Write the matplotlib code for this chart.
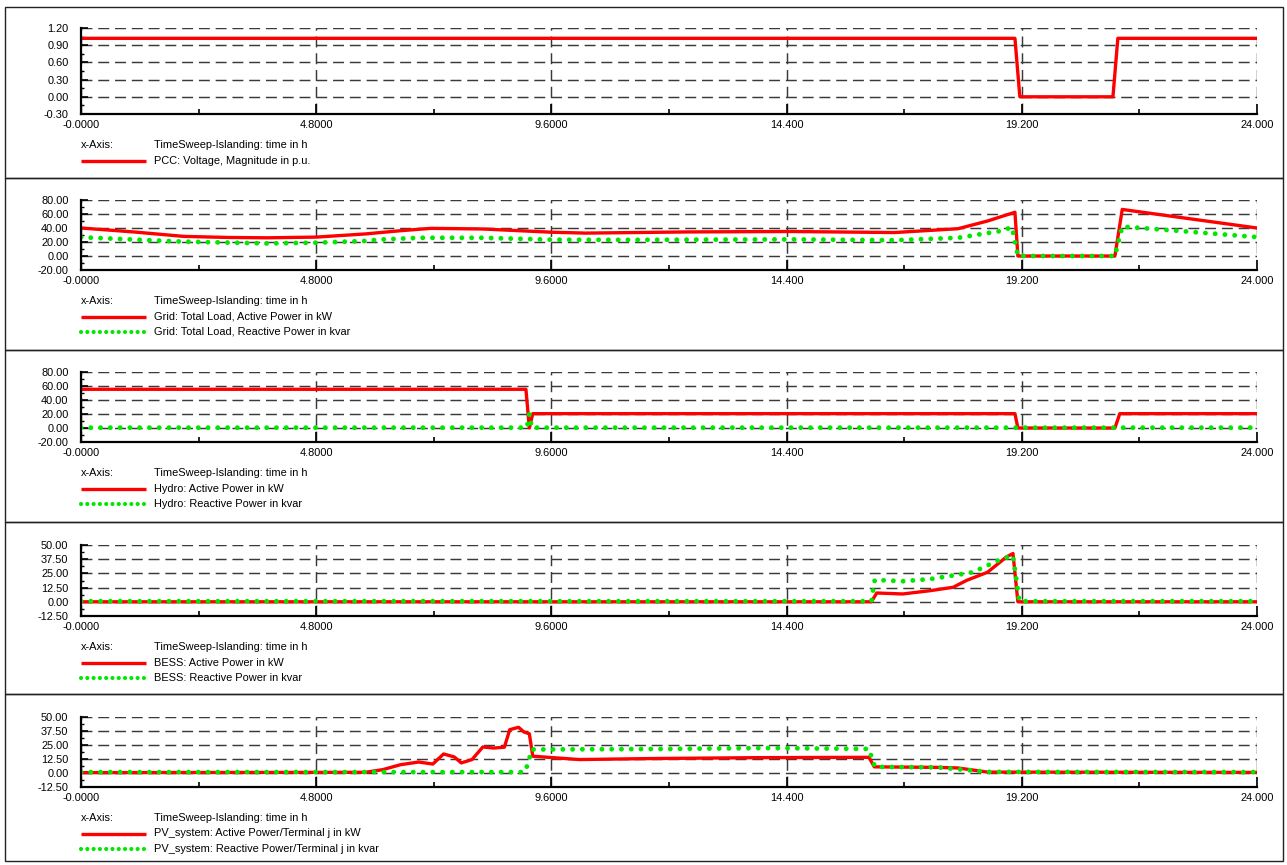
import matplotlib
matplotlib.use("Agg")
import matplotlib.pyplot as plt
from matplotlib.lines import Line2D
from matplotlib.patches import Rectangle
from matplotlib.ticker import AutoMinorLocator

plt.rcParams['font.family'] = ['Liberation Sans', 'DejaVu Sans']

W, H = 1287, 865

# x axis (hours)
x_ticks = [0, 4.8, 9.6, 14.4, 19.2, 24]
x_ticklabels = ['-0.0000', '4.8000', '9.6000', '14.400', '19.200', '24.000']
x_axis_label = 'TimeSweep-Islanding: time in h'

# PCC voltage
t_pcc = [0, 19.06, 19.16, 21.06, 21.16, 24]
pcc_v = [1.02, 1.02, 0.0, 0.0, 1.02, 1.02]

# grid total load
t_load_p = [0, 1.07, 2.1, 3.0, 3.8, 4.8, 5.8, 6.5, 7.14, 8.19, 9.6, 10.3, 12.4, 14.5,
            16.6, 17.9, 18.5, 19.06, 19.12, 21.1, 21.25, 24]
load_p = [40, 34.4, 28, 26.5, 26, 27, 31.5, 36, 39.5, 38.6, 34, 32.7, 34.4, 35,
          33.5, 39, 50, 62.5, 0, 0, 66.5, 40]
t_load_q = [0, 1.07, 2.1, 3.8, 4.8, 5.8, 6.1, 6.9, 8.2, 9.6, 11, 14.5, 16.6, 17.9,
            18.75, 19.0, 19.12, 21.1, 21.25, 22.2, 24]
load_q = [26.8, 23.5, 20.5, 18, 19, 21.5, 23.5, 26, 26, 23.3, 23, 23.8, 22.5, 26,
          35.5, 41, 0, 0, 42, 37, 27]

# hydro
t_hydro_p = [0, 9.08, 9.15, 9.22, 19.06, 19.12, 21.1, 21.2, 24]
hydro_p = [55.3, 55.3, 0, 20.5, 20.5, 0, 0, 20.5, 20.5]
t_hydro_q = [0, 9.1, 9.15, 9.2, 24]
hydro_q = [0.5, 0.5, 20, 0.5, 0.5]

# BESS
t_bess_p = [0, 16.13, 16.24, 16.77, 17.33, 17.8, 18.07, 18.5, 18.89, 19.02, 19.12, 24]
bess_p = [0, 0, 7.75, 6.9, 9.8, 12.8, 18.8, 26, 39.6, 42.5, 0, 0]
t_bess_q = [0, 16.13, 16.2, 16.77, 17.33, 17.8, 18.2, 18.5, 18.8, 19.02, 19.15, 24]
bess_q = [0.5, 0.5, 19.3, 18.1, 20, 23.2, 26, 32, 38, 40.5, 0.5, 0.5]

# PV system
t_pv_p = [0, 5.8, 6.16, 6.52, 6.89, 7.18, 7.40, 7.62, 7.76, 7.98, 8.2, 8.42, 8.64,
          8.75, 8.93, 9.04, 9.15, 9.22, 10.17, 11.63, 13.8, 16.08, 16.19, 17.5,
          17.9, 18.5, 24]
pv_p = [0.3, 0.6, 3, 7.4, 9.8, 8, 17, 14.3, 9, 12, 23.2, 22.3, 23, 38.7, 40.8, 36.6,
        35, 15, 12, 12.9, 13.7, 14, 5.5, 5, 4.5, 0.8, 0.5]
t_pv_q = [0, 9.05, 9.12, 9.2, 12, 14, 16.08, 16.2, 17.5, 18.0, 18.5, 24]
pv_q = [0.8, 0.8, 8, 21, 21.5, 22.3, 21.5, 5.5, 5, 3, 1, 0.8]

# y ticks per panel
y_ticks_pcc = [-0.3, 0, 0.3, 0.6, 0.9, 1.2]
y_ticks_load = [-20, 0, 20, 40, 60, 80]
y_ticks_hydro = [-20, 0, 20, 40, 60, 80]
y_ticks_bess = [-12.5, 0, 12.5, 25, 37.5, 50]
y_ticks_pv = [-12.5, 0, 12.5, 25, 37.5, 50]

# legend texts
names_pcc = ['PCC: Voltage, Magnitude in p.u.']
names_load = ['Grid: Total Load, Active Power in kW', 'Grid: Total Load, Reactive Power in kvar']
names_hydro = ['Hydro: Active Power in kW', 'Hydro: Reactive Power in kvar']
names_bess = ['BESS: Active Power in kW', 'BESS: Reactive Power in kvar']
names_pv = ['PV_system: Active Power/Terminal j in kW', 'PV_system: Reactive Power/Terminal j in kvar']

RED = '#ff0000'
GREEN = '#00e800'
FS = 7.9

panels = [
    (y_ticks_pcc, [(t_pcc, pcc_v)], names_pcc, 28, 114),
    (y_ticks_load, [(t_load_p, load_p), (t_load_q, load_q)], names_load, 200, 270),
    (y_ticks_hydro, [(t_hydro_p, hydro_p), (t_hydro_q, hydro_q)], names_hydro, 372, 442),
    (y_ticks_bess, [(t_bess_p, bess_p), (t_bess_q, bess_q)], names_bess, 545, 616),
    (y_ticks_pv, [(t_pv_p, pv_p), (t_pv_q, pv_q)], names_pv, 717, 787),
]
box_edges = [7, 178, 350, 522, 694, 861]

fig = plt.figure(figsize=(W / 100, H / 100), dpi=100)


def fx(x):
    return x / W


def fy(y):
    return 1 - y / H


left_px, right_px = 81, 1257
styles = [dict(color=RED, lw=2.4, solid_capstyle='butt'),
          dict(color=GREEN, lw=3.5, linestyle=(0, (0.01, 2.0)), dash_capstyle='round')]
legend_styles = [dict(color=RED, lw=2.4, solid_capstyle='butt'),
                 dict(color=GREEN, lw=3.0, linestyle=(0, (0.01, 1.5)), dash_capstyle='round')]

for i, (yt, series, names, top, bot) in enumerate(panels):
    # outer box of the panel
    fig.add_artist(Rectangle((fx(5), fy(box_edges[i + 1])), fx(1283 - 5),
                             (box_edges[i + 1] - box_edges[i]) / H,
                             transform=fig.transFigure, fill=False,
                             edgecolor='#222222', lw=1))

    ax = fig.add_axes([fx(left_px), fy(bot), fx(right_px - left_px), (bot - top) / H])
    for (t, v), st in zip(series, styles):
        ax.plot(t, v, zorder=3, **st)

    ax.set_xlim(0, 24)
    ax.set_ylim(yt[0], yt[-1])
    ax.set_xticks(x_ticks)
    ax.set_xticklabels(x_ticklabels)
    ax.set_yticks(yt)
    ax.set_yticklabels(['%.2f' % v for v in yt])
    ax.xaxis.set_minor_locator(AutoMinorLocator(2))
    ax.yaxis.set_minor_locator(AutoMinorLocator(2))
    ax.tick_params(axis='x', which='major', direction='in', length=7, width=1.2,
                   labelsize=FS, pad=4.5)
    ax.tick_params(axis='x', which='minor', direction='in', length=3.5, width=1.2)
    ax.tick_params(axis='y', which='major', direction='in', length=5, width=1.2,
                   labelsize=FS, pad=9)
    ax.tick_params(axis='y', which='minor', direction='in', length=2.5, width=1)
    ax.grid(True, which='major', color='#3a3a3a', lw=1.05, linestyle=(0, (7.5, 4)))
    ax.set_axisbelow(True)
    for s in ['top', 'right']:
        ax.spines[s].set_visible(False)
    for s in ['left', 'bottom']:
        ax.spines[s].set_linewidth(1.6)
        ax.spines[s].set_zorder(4)

    # legend block under the axes
    y0 = bot + 31
    fig.text(fx(81), fy(y0), 'x-Axis:', fontsize=FS, va='center', ha='left')
    fig.text(fx(154), fy(y0), x_axis_label, fontsize=FS, va='center', ha='left')
    for k, (name, st) in enumerate(zip(names, legend_styles)):
        yy = y0 + 15.5 * (k + 1)
        fig.add_artist(Line2D([fx(81), fx(146)], [fy(yy), fy(yy)],
                              transform=fig.transFigure, **st))
        fig.text(fx(154), fy(yy), name, fontsize=FS, va='center', ha='left')

fig.savefig('out.png', dpi=100)
